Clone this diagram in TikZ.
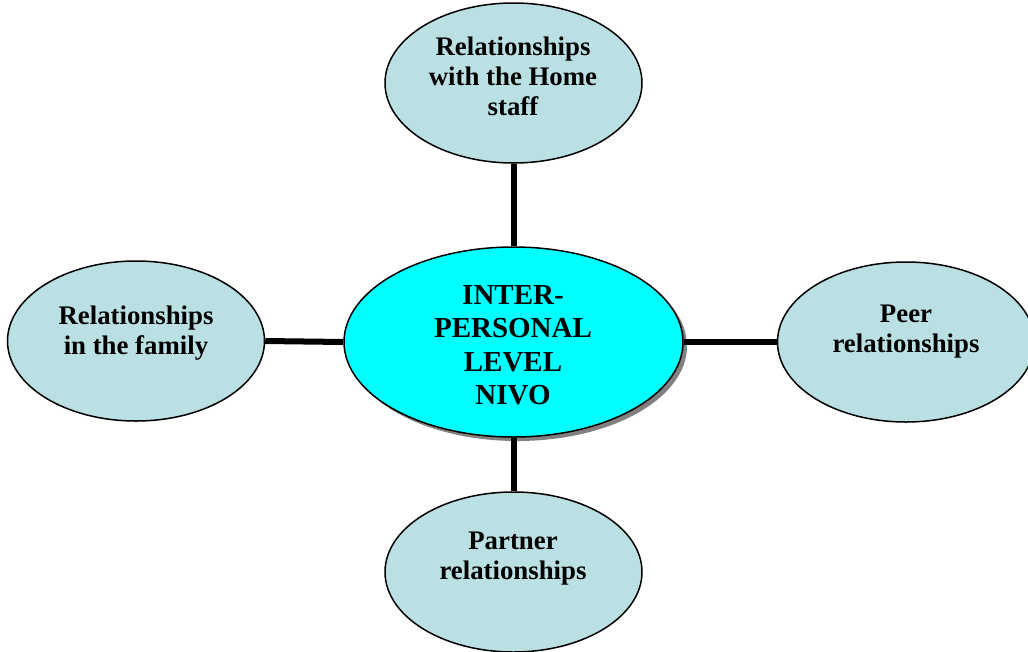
\documentclass[tikz,border=0pt]{standalone}
\usepackage{fontspec}
\setmainfont{Liberation Serif}
\usetikzlibrary{shapes.geometric,shadows}
\definecolor{outerfill}{HTML}{BBE0E3}
\definecolor{centerfill}{HTML}{00FFFF}
\begin{document}
\begin{tikzpicture}[x=1pt,y=-1pt,
  bubble/.style={ellipse,draw=black,line width=1.5pt,fill=outerfill,inner sep=0pt,minimum width=257pt,minimum height=160pt},
  hub/.style={ellipse,draw=black,line width=1.5pt,fill=centerfill,inner sep=0pt,minimum width=339pt,minimum height=190pt,
    drop shadow={shadow xshift=4pt,shadow yshift=-4pt,fill=black!50,opacity=1}},
  outertext/.style={align=center,font=\bfseries\fontsize{26.8}{30}\selectfont,inner sep=0pt},
  hubtext/.style={align=center,font=\bfseries\fontsize{29}{33.5}\selectfont,inner sep=0pt},
  link/.style={line width=6pt,black}]
\useasboundingbox (0,0) rectangle (1028,651);
\node[hub] (hub) at (513.5,342) {};
\node[bubble] (top) at (513.5,83) {};
\node[bubble] (left) at (136,341) {};
\node[bubble] (right) at (906,342) {};
\node[bubble] (bottom) at (513.5,572) {};
\draw[link] (top.south) -- (hub.north);
\draw[link] (left.east) -- (hub.west);
\draw[link] (hub.east) -- (right.west);
\draw[link] (hub.south) -- (bottom.north);
\node[hubtext] (hubt) at (513,345) {INTER-\\PERSONAL\\LEVEL\\NIVO};
\node[outertext] (topt) at (513,76) {Relationships\\with the Home\\staff};
\node[outertext] (leftt) at (136,333) {Relationships\\in the family};
\node[outertext] (rightt) at (906,332) {Peer\\relationships};
\node[outertext] (bottomt) at (513,559) {Partner\\relationships};
\end{tikzpicture}
\end{document}
